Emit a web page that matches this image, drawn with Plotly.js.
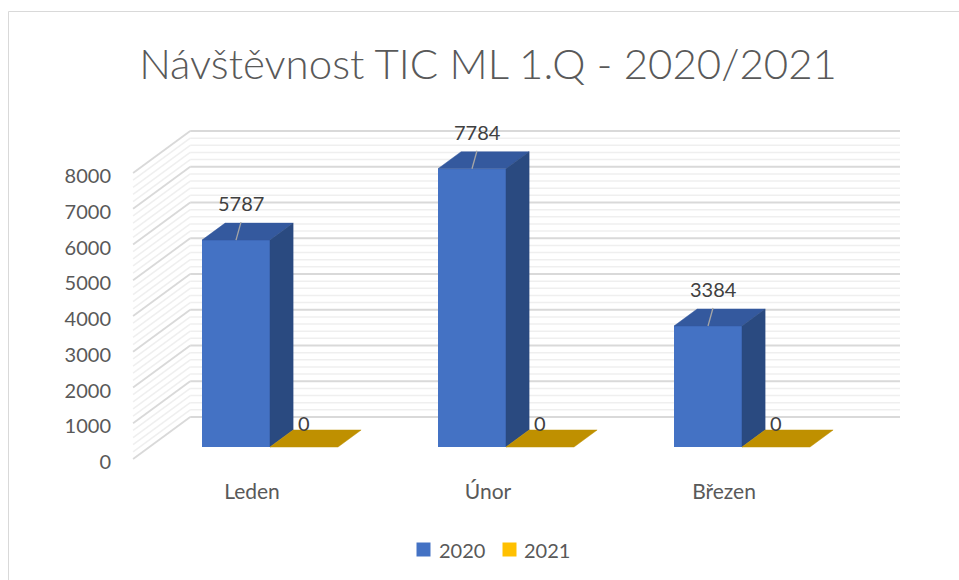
<!DOCTYPE html>
<html><head><meta charset="utf-8">
<script src="https://cdn.plot.ly/plotly-3.0.1.min.js"></script>
<style>html,body{margin:0;padding:0;background:#fff}</style>
</head><body>
<div id="chart" style="width:959px;height:580px"></div>
<script>
// ---------- data ----------
const categories = ["Leden", "Únor", "Březen"];
const seriesNames = ["2020", "2021"];
const values2020 = [5787, 7784, 3384];
const values2021 = [0, 0, 0];
const yTickVals = [0, 1000, 2000, 3000, 4000, 5000, 6000, 7000, 8000];
const yTickText = ["0", "1000", "2000", "3000", "4000", "5000", "6000", "7000", "8000"];
const yMinorStep = 200;
const titleText = "Návštěvnost TIC ML 1.Q - 2020/2021";

// ---------- geometry / style ----------
const W = 959, H = 580;
const M = {l: 120, r: 39, t: 100, b: 110};
const plotW = W - M.l - M.r, plotH = H - M.t - M.b;
const pxPerCat = 236, cat0Px = 270;
const pxPerVal = 0.03575, base0Px = 447;
const xRange = [(M.l - cat0Px) / pxPerCat, (W - M.r - cat0Px) / pxPerCat];
const yRange = [(base0Px - (H - M.b)) / pxPerVal, (base0Px - M.t) / pxPerVal];
const slope = 1.36;
const dX = d => d * slope / pxPerCat;
const dY = d => d / pxPerVal;
const barW = 68 / pxPerCat;
const barDepth = 17, floorFront = -12, wallDepth = 30;
const wallLeftX = (149.4 - cat0Px) / pxPerCat;
const wallRightX = (900 - cat0Px) / pxPerCat;
const labelShift = 15 / pxPerVal;
const font = "Lato, 'Open Sans', sans-serif";
const C = {front: "#4472C4", top: "#34599E", side: "#2A4A80", gold: "#FFC000", goldTop: "#BF9000",
           text: "#595959", label: "#404040", major: "#d9d9d9", minor: "#efefef"};
const pxX = p => (p - M.l) / plotW;
const pxY = p => (H - M.b - p) / plotH;

// ---------- gridlines (back wall + side wall) ----------
const shapes = [];
const yMax = yTickVals[yTickVals.length - 1];
for (const pass of ["minor", "major"]) {
  for (let v = 0; v <= yMax; v += yMinorStep) {
    const isMajor = yTickVals.includes(v);
    if ((pass === "major") !== isMajor) continue;
    const line = {color: isMajor ? C.major : C.minor, width: isMajor ? 1.8 : 1.5};
    shapes.push({type: "line", layer: "below", xref: "x", yref: "y", line,
      x0: wallLeftX + dX(floorFront), y0: v + dY(floorFront),
      x1: wallLeftX + dX(wallDepth), y1: v + dY(wallDepth)});
    shapes.push({type: "line", layer: "below", xref: "x", yref: "y", line,
      x0: wallLeftX + dX(wallDepth), y0: v + dY(wallDepth),
      x1: wallRightX, y1: v + dY(wallDepth)});
  }
}
// chart border
shapes.push({type: "rect", xref: "paper", yref: "paper", layer: "below",
  x0: pxX(8.5), x1: pxX(970), y0: pxY(11.5), y1: pxY(600), line: {color: "#d9d9d9", width: 1}});
// manual legend squares
const legendColors = [C.front, C.gold];
const legendSq = [416.5, 502.5];
const legendTx = [437, 522];
legendSq.forEach((p, k) => shapes.push({type: "rect", xref: "paper", yref: "paper",
  x0: pxX(p), x1: pxX(p + 14), y0: pxY(542.5), y1: pxY(556.5),
  fillcolor: legendColors[k], line: {width: 0}}));

// ---------- 3D faces ----------
function faces(vals, offset, topColor, sideColor) {
  const tx = [], ty = [], sx = [], sy = [];
  vals.forEach((v, i) => {
    const x0 = i + offset, x1 = x0 + barW, dx = dX(barDepth), dy = dY(barDepth);
    tx.push(x0, x1, x1 + dx, x0 + dx, x0, null);
    ty.push(v, v, v + dy, v + dy, v, null);
    if (v > 0) {
      sx.push(x1, x1, x1 + dx, x1 + dx, x1, null);
      sy.push(0, v, v + dy, dy, 0, null);
    }
  });
  const out = [{type: "scatter", x: tx, y: ty, mode: "lines", fill: "toself", fillcolor: topColor,
    line: {color: topColor, width: 0.5}, hoverinfo: "skip", showlegend: false}];
  if (sx.length) out.push({type: "scatter", x: sx, y: sy, mode: "lines", fill: "toself",
    fillcolor: sideColor, line: {color: sideColor, width: 0.5}, hoverinfo: "skip", showlegend: false});
  return out;
}

const idx = categories.map((c, i) => i);
const traces = [
  {type: "bar", name: seriesNames[0], x: idx, y: values2020, offset: -barW, width: barW,
   marker: {color: C.front, line: {width: 0}}, showlegend: false, hoverinfo: "skip"},
  {type: "bar", name: seriesNames[1], x: idx, y: values2021, offset: 0, width: barW,
   marker: {color: C.gold, line: {width: 0}}, showlegend: false, hoverinfo: "skip"},
  ...faces(values2020, -barW, C.top, C.side),
  ...faces(values2021, 0, C.goldTop, C.goldTop)
];
// leader lines for moved labels
const lx = [], ly = [];
values2020.forEach((v, i) => {
  const xc = i - barW / 2;
  lx.push(xc, xc + 5 / pxPerCat, null);
  ly.push(v, v + 18 / pxPerVal, null);
});
traces.push({type: "scatter", x: lx, y: ly, mode: "lines", line: {color: "#A6A6A6", width: 1.3},
  hoverinfo: "skip", showlegend: false});
// dummy trace for yaxis2
traces.push({type: "scatter", x: [null], y: [null], yaxis: "y2", showlegend: false, hoverinfo: "skip"});

// ---------- annotations ----------
const annotations = [];
values2020.forEach((v, i) => annotations.push({x: i - barW / 2 + 5 / pxPerCat, y: v, xref: "x", yref: "y",
  text: String(v), showarrow: false, yanchor: "middle", yshift: 37, font: {family: font, size: 20, color: C.label}}));
values2021.forEach((v, i) => annotations.push({x: i + barW / 2, y: v, xref: "x", yref: "y",
  text: String(v), showarrow: false, yanchor: "middle", yshift: 24, font: {family: font, size: 20, color: C.label}}));
seriesNames.forEach((s, k) => annotations.push({x: pxX(legendTx[k]), y: pxY(549.5), xref: "paper", yref: "paper",
  text: s, showarrow: false, xanchor: "left", yanchor: "middle", font: {family: font, size: 20, color: C.text}}));

const layout = {
  width: W, height: H, margin: M, paper_bgcolor: "#fff", plot_bgcolor: "rgba(0,0,0,0)",
  title: {text: titleText, x: 488 / W, xref: "container", xanchor: "center", y: 1 - 64 / H, yref: "container",
    yanchor: "middle", font: {family: "Lato", weight: 300, size: 42, color: C.text}},
  showlegend: false, barmode: "overlay",
  xaxis: {range: xRange, tickvals: idx.map(i => i - 18 / pxPerCat), ticktext: categories,
    showgrid: false, zeroline: false, showline: false, ticks: "", ticklabelstandoff: 7,
    tickfont: {family: font, size: 21, color: C.text}, fixedrange: true},
  yaxis: {range: yRange, showgrid: false, zeroline: false, showline: false, showticklabels: false, fixedrange: true},
  yaxis2: {overlaying: "y", side: "left", range: [yRange[0] + labelShift, yRange[1] + labelShift],
    tickvals: yTickVals, ticktext: yTickText, showgrid: false, zeroline: false, showline: false, ticks: "",
    ticklabelstandoff: 8, tickfont: {family: font, size: 20, color: C.text}, fixedrange: true},
  shapes, annotations
};
Plotly.newPlot("chart", traces, layout, {displayModeBar: false, staticPlot: true});
</script>
</body></html>
